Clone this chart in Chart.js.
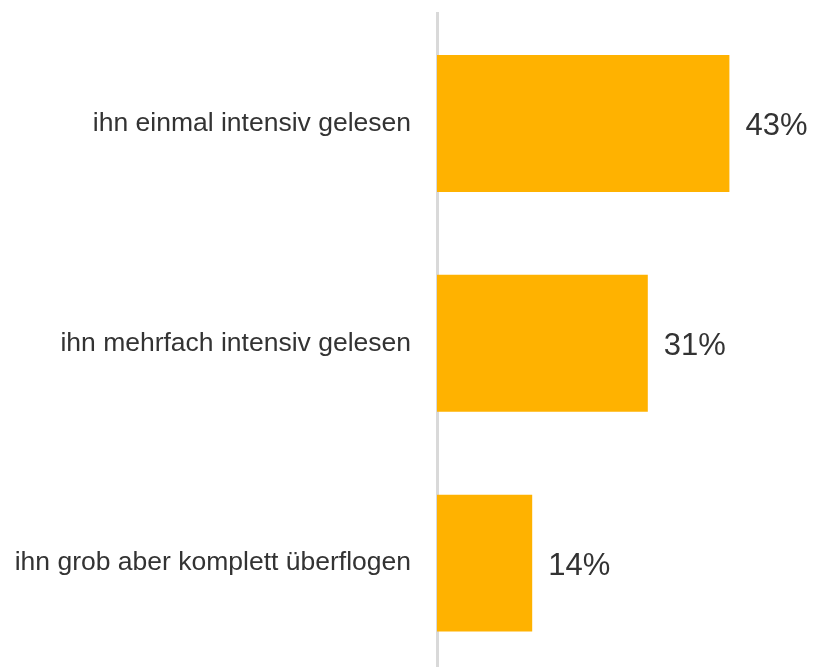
<!DOCTYPE html>
<html><head><meta charset="utf-8">
<script src="https://cdn.jsdelivr.net/npm/chart.js@4/dist/chart.umd.min.js"></script>
<style>html,body{margin:0;padding:0;background:#fff;overflow:hidden}canvas{display:block}</style>
</head><body><canvas id="c" width="813" height="680" style="width:813px;height:680px"></canvas>
<script>
const categories = ["ihn einmal intensiv gelesen", "ihn mehrfach intensiv gelesen", "ihn grob aber komplett überflogen"];
const values = [43, 31, 14];
const valueLabels = ["43%", "31%", "14%"];

const valuePlugin = {
  id: 'vals',
  afterDatasetsDraw(chart) {
    const ctx = chart.ctx;
    const meta = chart.getDatasetMeta(0);
    ctx.save();
    ctx.font = '31px "Liberation Sans", Arial, sans-serif';
    ctx.fillStyle = '#333333';
    ctx.textAlign = 'left';
    ctx.textBaseline = 'middle';
    meta.data.forEach((bar, i) => {
      ctx.fillText(valueLabels[i], bar.x + 16, bar.y + 3);
    });
    ctx.restore();
  }
};

new Chart(document.getElementById('c'), {
  type: 'bar',
  data: { labels: categories, datasets: [{ data: values, backgroundColor: '#FFB200', borderWidth: 0, barPercentage: 0.623, categoryPercentage: 1 }] },
  options: {
    indexAxis: 'y', responsive: false, maintainAspectRatio: false, animation: false, devicePixelRatio: 1,
    layout: { padding: { top: 13.6, bottom: 7, right: 2, left: 0 } },
    plugins: { legend: { display: false }, tooltip: { enabled: false } },
    scales: {
      x: { display: false, min: 0, max: 55 },
      y: {
        afterFit(s) { s.width = 437; s.paddingTop = 0; s.paddingBottom = 0; },
        grid: { display: false, drawTicks: false },
        border: { display: true, color: '#d9d9d9', width: 3 },
        ticks: { color: '#333333', padding: 26, font: { size: 26.5, family: '"Liberation Sans", Arial, sans-serif' } }
      }
    }
  },
  plugins: [valuePlugin]
});
</script></body></html>
